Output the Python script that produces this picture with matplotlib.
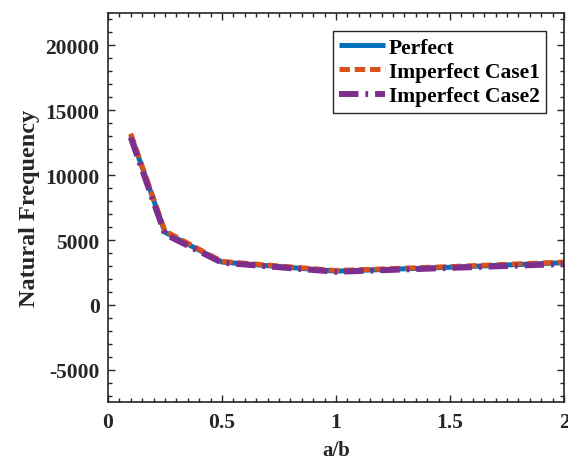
import matplotlib
matplotlib.use("Agg")
import matplotlib.pyplot as plt
from matplotlib.ticker import MultipleLocator

ab = [0.1, 0.25, 0.5, 1.0, 1.5, 2.0]
perfect = [13100, 5600, 3300, 2600, 2900, 3250]
case1 = [13200, 5700, 3350, 2650, 2950, 3300]
case2 = [12900, 5450, 3250, 2550, 2850, 3150]
labels = ["Perfect", "Imperfect Case1", "Imperfect Case2"]

plt.rcParams['font.family'] = ['Liberation Serif', 'DejaVu Serif']
plt.rcParams['font.weight'] = 'bold'
plt.rcParams['lines.scale_dashes'] = False
plt.rcParams['axes.unicode_minus'] = False

fig = plt.figure(figsize=(5.68, 4.64), dpi=100)
ax = fig.add_axes([0.190, 0.131, 0.803, 0.839])

ax.plot(ab, perfect, color='#0072BD', lw=3.6, solid_capstyle='butt', label=labels[0])
ax.plot(ab, case1, color='#D95319', lw=3.6, dashes=(7.5, 3.5), label=labels[1])
ax.plot(ab, case2, color='#7E2F8E', lw=4.3, dashes=(14, 5, 2, 5), label=labels[2])

ax.set_xlim(0, 2)
ax.set_ylim(-7500, 22500)
ax.set_xticks([0, 0.5, 1, 1.5, 2])
ax.set_xticklabels(['0', '0.5', '1', '1.5', '2'])
ax.set_yticks([-5000, 0, 5000, 10000, 15000, 20000])
ax.xaxis.set_minor_locator(MultipleLocator(0.05))
ax.yaxis.set_minor_locator(MultipleLocator(1000))
ax.tick_params(which='both', direction='in', top=True, right=True,
               colors='#262626', labelcolor='#262626', labelsize=15.5, width=1.0)
ax.tick_params(which='major', length=5)
ax.tick_params(axis='y', which='major', pad=6)
ax.tick_params(axis='x', which='major', pad=7)
ax.tick_params(which='minor', length=3)
for lab in ax.get_xticklabels() + ax.get_yticklabels():
    lab.set_fontweight('bold')
for s in ax.spines.values():
    s.set_color('#262626')
    s.set_linewidth(1.2)

ax.set_xlabel('a/b', fontsize=15, fontweight='bold', color='#262626', labelpad=6)
ax.set_ylabel('Natural Frequency', fontsize=17.5, fontweight='bold', color='#262626', labelpad=4)

leg = ax.legend(loc='upper right', bbox_to_anchor=(0.975, 0.97),
                prop={'weight': 'bold', 'size': 15.5}, handlelength=2.1, handletextpad=0.2,
                borderpad=0.3, labelspacing=0.2, fancybox=False, framealpha=1,
                borderaxespad=0.3)
leg.get_frame().set_edgecolor('#262626')
leg.get_frame().set_linewidth(1.0)

fig.savefig('out.png', dpi=100)
